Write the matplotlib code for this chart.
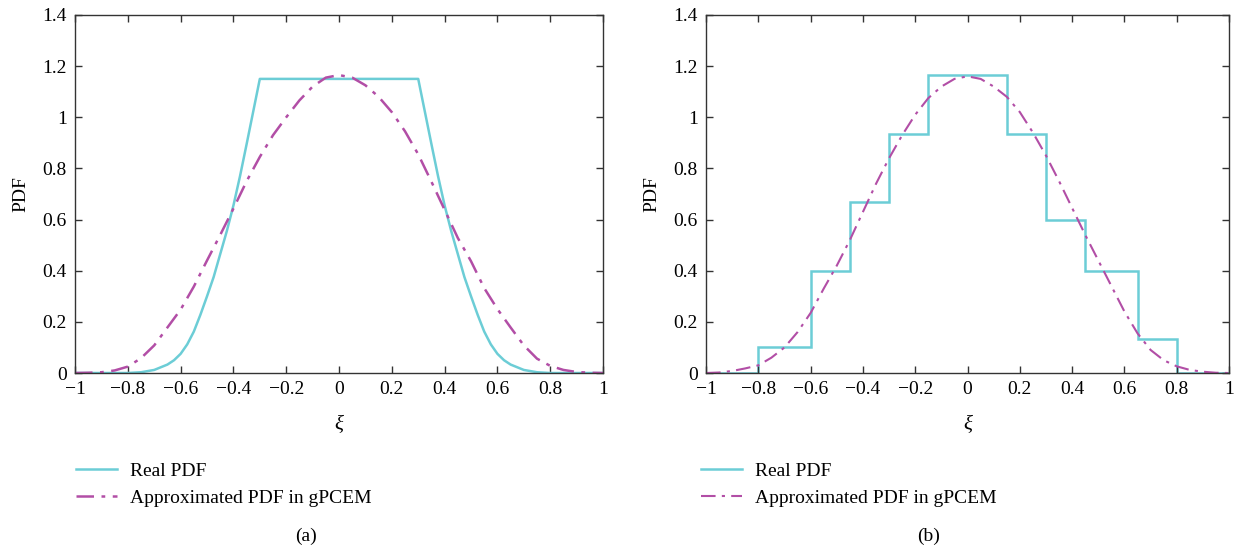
import matplotlib
matplotlib.use('Agg')
import matplotlib.pyplot as plt

# (a) real PDF: flat top with curved shoulders
real_a_x = [-1.0, -0.8, -0.75, -0.7, -0.65, -0.625, -0.6, -0.575, -0.55, -0.525, -0.5,
            -0.475, -0.45, -0.425, -0.4, -0.375, -0.35, -0.3,
            0.3, 0.35, 0.375, 0.4, 0.425, 0.45, 0.475, 0.5, 0.525, 0.55, 0.575,
            0.6, 0.625, 0.65, 0.7, 0.75, 0.8, 1.0]
real_a_y = [0.0, 0.0, 0.003, 0.012, 0.033, 0.05, 0.075, 0.112, 0.162, 0.228, 0.3,
            0.375, 0.465, 0.555, 0.655, 0.77, 0.895, 1.15,
            1.15, 0.895, 0.77, 0.655, 0.555, 0.465, 0.375, 0.3, 0.228, 0.162, 0.112,
            0.075, 0.05, 0.033, 0.012, 0.003, 0.0, 0.0]

# (a) approximated PDF
approx_a_x = [-1.0, -0.95, -0.9, -0.85, -0.8, -0.75, -0.7, -0.65, -0.6, -0.55, -0.5,
              -0.45, -0.4, -0.35, -0.3, -0.25, -0.2, -0.15, -0.1, -0.05, 0.0,
              0.05, 0.1, 0.15, 0.2, 0.25, 0.3, 0.35, 0.4, 0.45, 0.5,
              0.55, 0.6, 0.65, 0.7, 0.75, 0.8, 0.85, 0.9, 0.95, 1.0]
approx_a_y = [0.0, 0.001, 0.003, 0.01, 0.025, 0.058, 0.108, 0.178, 0.248, 0.338, 0.44,
              0.54, 0.643, 0.75, 0.845, 0.93, 1.0, 1.066, 1.12, 1.155, 1.165,
              1.155, 1.125, 1.08, 1.02, 0.945, 0.855, 0.748, 0.638, 0.528, 0.437,
              0.332, 0.25, 0.178, 0.108, 0.056, 0.028, 0.012, 0.004, 0.001, 0.0]

# (b) real PDF: piecewise constant
edges_b = [-1.0, -0.8, -0.6, -0.45, -0.3, -0.15, 0.15, 0.3, 0.45, 0.65, 0.8, 1.0]
heights_b = [0.0, 0.1, 0.4, 0.667, 0.933, 1.167, 0.933, 0.6, 0.4, 0.133, 0.0]

# (b) approximated PDF
approx_b_x = approx_a_x
approx_b_y = [0.0, 0.002, 0.008, 0.018, 0.03, 0.06, 0.1, 0.16, 0.235, 0.33, 0.42,
              0.52, 0.63, 0.74, 0.84, 0.93, 1.01, 1.075, 1.12, 1.15, 1.16,
              1.15, 1.12, 1.08, 1.02, 0.94, 0.85, 0.75, 0.645, 0.54, 0.44,
              0.34, 0.24, 0.155, 0.09, 0.05, 0.026, 0.012, 0.005, 0.001, 0.0]

xticks = [-1, -0.8, -0.6, -0.4, -0.2, 0, 0.2, 0.4, 0.6, 0.8, 1]
xticklabels = ['\u22121', '\u22120.8', '\u22120.6', '\u22120.4', '\u22120.2', '0',
               '0.2', '0.4', '0.6', '0.8', '1']
yticks = [0, 0.2, 0.4, 0.6, 0.8, 1, 1.2, 1.4]
yticklabels = ['0', '0.2', '0.4', '0.6', '0.8', '1', '1.2', '1.4']

cyan = '#6ccdd6'
purple = '#b24ea6'

plt.rcParams['font.family'] = ['Liberation Serif', 'DejaVu Serif']
plt.rcParams['font.size'] = 14

fig = plt.figure(figsize=(12.38, 5.5), dpi=100)
ax1 = fig.add_axes([0.0606, 0.3218, 0.4265, 0.651])
ax2 = fig.add_axes([0.5703, 0.3218, 0.4225, 0.651])


def style(ax):
    ax.set_xlim(-1, 1)
    ax.set_ylim(0, 1.4)
    ax.set_xticks(xticks)
    ax.set_xticklabels(xticklabels)
    ax.set_yticks(yticks)
    ax.set_yticklabels(yticklabels)
    ax.tick_params(direction='in', top=True, right=True, length=5, width=1,
                   color='#333333', labelsize=14, pad=6)
    for s in ax.spines.values():
        s.set_color('#333333')
        s.set_linewidth(1)
    ax.set_xlabel('\u03be', fontstyle='italic', fontsize=15, labelpad=13)
    ax.set_ylabel('PDF', fontsize=14, labelpad=9)


ax1.plot(real_a_x, real_a_y, color=cyan, lw=1.8, label='Real PDF')
ax1.plot(approx_a_x, approx_a_y, color=purple, lw=1.8, dashes=(7, 3, 1.5, 3),
         label='Approximated PDF in gPCEM')
style(ax1)

ax2.stairs(heights_b, edges_b, color=cyan, lw=1.8, baseline=None, label='Real PDF')
ax2.plot(approx_b_x, approx_b_y, color=purple, lw=1.5, dashes=(7, 3, 1.5, 3),
         label='Approximated PDF in gPCEM')
style(ax2)

for ax, lx, tag, tx in [(ax1, 0.0614, '(a)', 0.247), (ax2, 0.5662, '(b)', 0.750)]:
    h, l = ax.get_legend_handles_labels()
    fig.legend(h, l, loc='upper left', bbox_to_anchor=(lx, 0.159), frameon=False,
               handlelength=2.1, handletextpad=0.7, labelspacing=0.45, fontsize=14,
               borderaxespad=0, borderpad=0)
    fig.text(tx, 0.024, tag, ha='center', va='center', fontsize=14)

fig.savefig('out.png', dpi=100)
